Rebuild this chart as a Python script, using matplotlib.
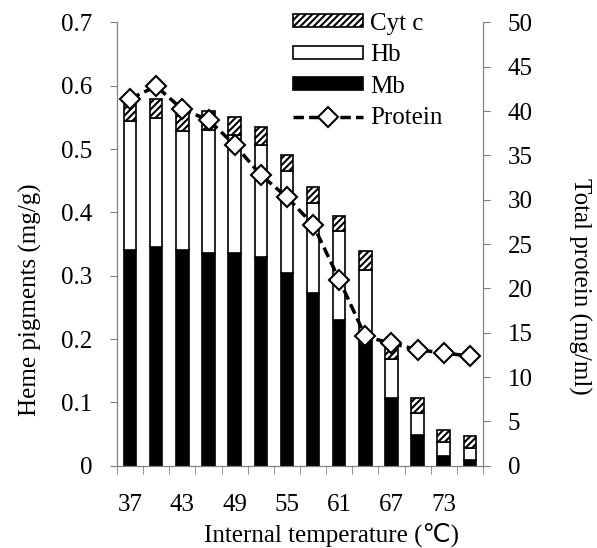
import numpy as np
import matplotlib
matplotlib.use('Agg')
import matplotlib.pyplot as plt

plt.rcParams['font.family'] = ['Liberation Serif', 'DejaVu Sans']
plt.rcParams['hatch.linewidth'] = 1.5

temps = [37, 40, 43, 46, 49, 52, 55, 58, 61, 64, 67, 70, 73, 76]
mb = [0.341, 0.345, 0.341, 0.336, 0.336, 0.329, 0.305, 0.273, 0.230, 0.205, 0.107, 0.048, 0.016, 0.009]
hb_top = [0.544, 0.549, 0.528, 0.531, 0.523, 0.506, 0.465, 0.415, 0.371, 0.309, 0.168, 0.084, 0.037, 0.028]
total = [0.573, 0.579, 0.557, 0.560, 0.550, 0.535, 0.491, 0.441, 0.395, 0.339, 0.188, 0.107, 0.057, 0.047]
protein = [41.4, 42.8, 40.2, 39.0, 36.2, 32.8, 30.3, 27.2, 21.0, 14.6, 13.8, 13.1, 12.7, 12.4]

mb = np.array(mb)
hb = np.array(hb_top) - mb
cytc = np.array(total) - np.array(hb_top)
x = np.arange(len(temps))

fs = 18
fig = plt.figure(figsize=(5.97, 5.48), dpi=100)
ax = fig.add_axes([0.196, 0.150, 0.613, 0.809])
ax2 = ax.twinx()

w = 0.48
b1 = ax.bar(x, mb, w, color='black', edgecolor='black', linewidth=1.2, label='Mb')
b2 = ax.bar(x, hb, w, bottom=mb, color='white', edgecolor='black', linewidth=1.2, label='Hb')
b3 = ax.bar(x, cytc, w, bottom=mb + hb, color='white', edgecolor='black', linewidth=1.2,
            hatch='/////', label='Cyt c')
l1, = ax2.plot(x, protein, '--', color='black', linewidth=2.5, dashes=(3, 1.5),
               marker='D', markersize=10, markerfacecolor='white', markeredgecolor='black',
               markeredgewidth=1.5, label='Protein')

ax.set_xlim(-0.5, len(temps) - 0.5)
ax.set_ylim(0, 0.7)
ax.set_yticks(np.arange(0, 0.71, 0.1))
ax.set_yticklabels(['0'] + ['%.1f' % v for v in np.arange(0.1, 0.71, 0.1)])
ax2.set_ylim(0, 50)
ax2.set_yticks(range(0, 51, 5))

ax.set_xticks(x[::2])
ax.set_xticklabels([str(t) for t in temps[::2]])
ax.set_xticks(np.arange(-0.5, len(temps), 1), minor=True)
ax.tick_params(axis='x', which='major', length=0, pad=20, labelsize=fs)
ax.tick_params(axis='x', which='minor', length=6, color='gray')

for a in (ax, ax2):
    a.spines['top'].set_visible(False)
    for s in ('left', 'right', 'bottom'):
        a.spines[s].set_color('gray')
    a.tick_params(axis='y', length=5, color='gray', labelsize=fs, pad=13)

ax.set_ylabel('Heme pigments (mg/g)', fontsize=fs)
ax.yaxis.set_label_coords(-0.205, 0.375)
ax2.set_ylabel('Total protein (mg/ml)', fontsize=fs, rotation=270, va='bottom')
ax2.yaxis.set_label_coords(1.232, 0.404)
ax.set_xlabel('Internal temperature (℃)', fontsize=fs)
ax.xaxis.set_label_coords(0.585, -0.128)

ax.set_zorder(ax2.get_zorder() - 1)
ax2.patch.set_visible(False)

leg = ax2.legend([b3, b2, b1, l1], ['Cyt c', 'Hb', 'Mb', 'Protein'],
                 loc='upper left', bbox_to_anchor=(0.48, 1.022), frameon=False,
                 borderaxespad=0, borderpad=0,
                 fontsize=fs, handlelength=2.8, handleheight=0.4,
                 handletextpad=0.3, labelspacing=0.38)

fig.savefig('out.png', dpi=100)
